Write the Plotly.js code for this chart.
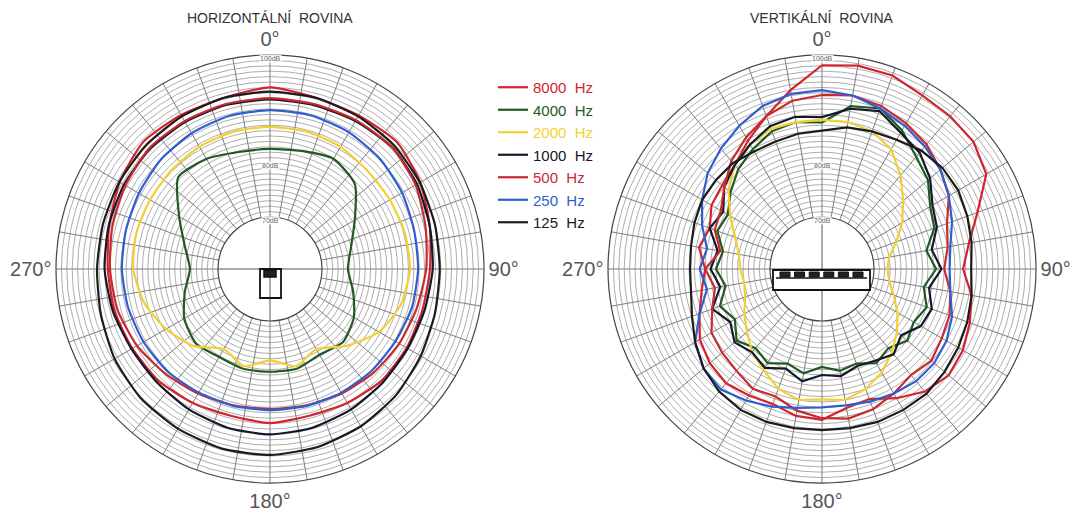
<!DOCTYPE html>
<html>
<head>
<meta charset="utf-8">
<script src="https://cdn.plot.ly/plotly-3.0.1.min.js"></script>
<style>
  html, body { margin: 0; padding: 0; background: #fff; }
  #chart { width: 1073px; height: 514px; }
</style>
</head>
<body>
<div id="chart"></div>
<script>
// Polar sound-level diagrams of a loudspeaker, horizontal and vertical planes (dB)
const anglesH = [0,15,30,45,60,75,90,105,120,135,150,165,180,195,210,225,240,255,270,285,300,315,330,345];
const anglesV = [0,10,20,30,40,50,60,70,80,90,100,110,120,130,140,150,160,170,180,190,200,210,220,230,240,250,260,270,280,290,300,310,320,330,340,350];

// Horizontal plane
const h8000 = [94.0,93.2,93.2,93.6,92.5,91.0,90.0,89.6,89.6,89.6,89.0,88.5,88.9,88.5,89.0,89.6,89.8,90.2,90.4,91.2,92.5,93.6,93.3,93.2];
const h4000 = [82.6,83.0,83.9,82.6,78.5,75.9,74.8,76.3,78.3,79.5,78.7,79.5,79.4,79.5,79.2,79.8,78.7,76.7,75.2,76.7,79.8,84.4,83.9,82.8];
const h2000 = [86.7,86.7,86.5,86.0,86.0,86.2,86.3,85.5,83.7,80.5,77.5,79.0,77.3,79.0,77.5,80.5,82.6,84.5,85.7,86.0,86.0,86.2,86.5,86.7];
const h1000 = [91.8,91.8,92.0,92.3,91.8,91.0,90.5,90.0,89.8,90.0,90.4,90.8,91.0,90.8,90.4,90.0,90.0,90.5,91.0,91.3,91.6,91.8,91.8,91.8];
const h500  = [92.0,92.0,92.2,92.3,91.5,90.2,89.3,88.5,88.0,87.5,87.0,86.5,86.3,86.5,87.0,87.8,88.8,89.6,90.0,90.6,91.3,92.0,92.0,92.0];
const h250  = [89.8,89.8,89.6,89.2,88.6,88.0,87.8,87.6,87.2,87.0,86.8,86.6,86.5,86.6,86.8,87.2,87.4,87.6,87.8,88.0,88.4,89.0,89.4,89.7];
const h125  = [93.2,93.2,93.0,92.8,92.4,92.0,91.8,92.0,92.6,93.4,94.0,94.5,94.8,94.8,94.5,94.2,93.6,92.8,92.4,92.4,92.6,92.8,93.0,93.2];

// Vertical plane
const v8000 = [98.1,98.6,98.5,97.5,97.3,97.0,95.5,91.0,88.0,86.5,88.5,89.5,90.5,91.0,90.0,88.0,86.0,86.5,88.3,88.0,87.0,87.4,88.0,87.5,86.5,84.5,83.0,82.0,83.5,82.5,84.0,84.5,85.5,87.8,90.5,94.0];
const v4000 = [87.5,91.0,92.0,90.0,87.5,86.0,83.5,82.5,80.0,81.5,79.5,81.0,80.0,81.0,79.5,80.5,79.0,79.5,78.5,80.0,79.0,80.5,79.5,81.0,79.0,80.5,78.5,80.0,79.0,81.0,80.5,82.5,84.5,86.0,87.5,88.0];
const v2000 = [88.0,88.0,87.5,86.0,83.0,80.0,77.5,75.0,73.0,72.5,73.0,74.5,76.5,78.5,80.5,82.5,84.0,85.0,84.5,85.0,84.0,82.0,80.5,78.5,77.0,75.5,75.0,75.5,76.0,77.5,80.0,83.0,85.5,87.0,88.0,88.0];
const v1000 = [88.5,90.5,91.5,89.5,88.5,86.5,84.0,83.0,81.0,82.5,80.5,82.0,81.5,79.5,81.0,80.0,79.5,80.5,80.0,81.5,80.0,81.5,80.5,81.5,80.0,82.0,79.5,81.0,80.0,82.5,81.5,84.0,85.5,87.0,88.5,89.0];
const v500  = [92.6,93.0,92.5,91.5,90.5,89.0,87.5,85.0,84.0,83.0,84.5,85.5,86.0,86.8,86.0,87.0,88.0,88.5,88.0,87.0,85.5,86.0,85.0,84.5,84.0,82.0,80.5,82.0,79.5,81.5,82.0,84.0,86.5,88.5,90.5,92.0];
const v250  = [93.5,93.0,92.0,91.0,90.0,89.0,87.5,86.0,84.5,84.0,84.5,86.0,87.0,87.5,87.5,87.0,86.5,86.0,86.0,86.5,87.5,88.5,89.5,89.0,87.5,84.5,82.0,83.0,82.0,84.0,86.0,88.0,89.5,91.0,92.5,93.3];
const v125  = [86.0,87.0,87.5,88.0,89.0,89.5,89.5,89.0,88.5,88.0,88.5,89.0,89.5,90.0,90.5,90.5,90.5,90.3,90.2,90.3,90.5,90.5,90.0,89.0,87.5,86.0,85.0,84.8,85.0,85.5,86.0,86.0,86.0,85.5,85.5,85.8];

const freqLabels = ['8000', '4000', '2000', '1000', '500', '250', '125'];
const freqColors = ['#d3242c', '#1f5a22', '#f1d034', '#15182a', '#c82a30', '#2f5ed0', '#1c1c1c'];
const horizSeries = [h8000, h4000, h2000, h1000, h500, h250, h125];
const vertSeries  = [v8000, v4000, v2000, v1000, v500, v250, v125];

const W = 1073, H = 514;
const RADIUS = 214, HOLE_PX = 52;
const centres = [{x: 270, y: 269}, {x: 822, y: 269}];

function closeLoop(arr) { return arr.concat([arr[0]]); }
function closeAngles(arr) { return arr.concat([360]); }
function px(x) { return x / W; }
function py(y) { return 1 - y / H; }

const traces = [];
freqLabels.forEach((f, i) => {
  const nameHtml = '<span style="color:' + freqColors[i] + '">' + f + '\u00a0\u00a0Hz</span>';
  traces.push({
    type: 'scatterpolar', subplot: 'polar',
    r: closeLoop(horizSeries[i]), theta: closeAngles(anglesH),
    mode: 'lines', line: {color: freqColors[i], width: 2.2, shape: 'spline', smoothing: 0.6},
    name: nameHtml, legendgroup: f, showlegend: true, hoverinfo: 'skip'
  });
  traces.push({
    type: 'scatterpolar', subplot: 'polar2',
    r: closeLoop(vertSeries[i]), theta: closeAngles(anglesV),
    mode: 'lines', line: {color: freqColors[i], width: 2.2},
    name: nameHtml, legendgroup: f, showlegend: false, hoverinfo: 'skip'
  });
});

const angTickVals = [];
const angTickText = [];
for (let a = 0; a < 360; a += 10) {
  angTickVals.push(a);
  angTickText.push(a % 90 === 0 ? a + '°' : '');
}

function polarLayout(c) {
  return {
    domain: {x: [px(c.x - RADIUS), px(c.x + RADIUS)], y: [py(c.y + RADIUS), py(c.y - RADIUS)]},
    hole: HOLE_PX / RADIUS,
    bgcolor: '#ffffff',
    radialaxis: {
      range: [70, 100], tick0: 70, dtick: 1, showticklabels: false, ticks: '',
      showline: false, gridcolor: '#8a8a8a', gridwidth: 0.7
    },
    angularaxis: {
      direction: 'clockwise', rotation: 90, tickmode: 'array',
      tickvals: angTickVals, ticktext: angTickText, ticks: '',
      tickfont: {family: 'Liberation Sans, Arial, sans-serif', size: 20, color: '#555'},
      gridcolor: '#5a5a5a', gridwidth: 0.8,
      showline: true, linecolor: '#444', linewidth: 1.2
    }
  };
}

// dB scale labels along the 0° spoke
const dbMarks = [100, 80, 70];
const annotations = [];
centres.forEach(c => {
  dbMarks.forEach(db => {
    const rpx = HOLE_PX + (db - 70) * (RADIUS - HOLE_PX) / 30;
    annotations.push({
      xref: 'paper', yref: 'paper', x: px(c.x), y: py(c.y - rpx + 3),
      text: db + 'dB', showarrow: false, xanchor: 'center', yanchor: 'middle',
      font: {family: 'Liberation Sans, Arial, sans-serif', size: 7, color: '#666'},
      bgcolor: 'rgba(255,255,255,0.85)', borderpad: 0
    });
  });
});
annotations.push({
  xref: 'paper', yref: 'paper', x: px(centres[0].x), y: py(18),
  text: 'HORIZONTÁLNÍ\u00a0\u00a0ROVINA', showarrow: false, xanchor: 'center', yanchor: 'middle',
  font: {family: 'Liberation Sans, Arial, sans-serif', size: 14, color: '#333'}
});
annotations.push({
  xref: 'paper', yref: 'paper', x: px(centres[1].x), y: py(18),
  text: 'VERTIKÁLNÍ\u00a0\u00a0ROVINA', showarrow: false, xanchor: 'center', yanchor: 'middle',
  font: {family: 'Liberation Sans, Arial, sans-serif', size: 14, color: '#333'}
});

// Cross hairs through the hole and the loudspeaker outlines
const shapes = [];
centres.forEach(c => {
  shapes.push({type: 'line', xref: 'paper', yref: 'paper', x0: px(c.x), x1: px(c.x),
    y0: py(c.y - HOLE_PX), y1: py(c.y + HOLE_PX), line: {color: '#555', width: 1}});
  shapes.push({type: 'line', xref: 'paper', yref: 'paper', x0: px(c.x - HOLE_PX), x1: px(c.x + HOLE_PX),
    y0: py(c.y), y1: py(c.y), line: {color: '#555', width: 1}});
});
// single-driver cabinet (horizontal view)
const cl = centres[0];
shapes.push({type: 'rect', xref: 'paper', yref: 'paper',
  x0: px(cl.x - 10), x1: px(cl.x + 11), y0: py(cl.y), y1: py(cl.y + 29),
  line: {color: '#111', width: 1.8}, fillcolor: 'rgba(255,255,255,0)'});
shapes.push({type: 'rect', xref: 'paper', yref: 'paper',
  x0: px(cl.x - 6), x1: px(cl.x + 6), y0: py(cl.y + 1), y1: py(cl.y + 8),
  line: {color: '#111', width: 1.5}, fillcolor: '#222'});
// line-array cabinet (vertical view)
const cr = centres[1];
shapes.push({type: 'rect', xref: 'paper', yref: 'paper',
  x0: px(cr.x - 49), x1: px(cr.x + 48), y0: py(cr.y + 1), y1: py(cr.y + 21),
  line: {color: '#111', width: 1.8}, fillcolor: '#ffffff'});
shapes.push({type: 'line', xref: 'paper', yref: 'paper',
  x0: px(cr.x - 46), x1: px(cr.x + 45), y0: py(cr.y + 9), y1: py(cr.y + 9),
  line: {color: '#111', width: 1.4}});
for (let k = 0; k < 6; k++) {
  const xc = cr.x - 37 + k * 14.6;
  shapes.push({type: 'rect', xref: 'paper', yref: 'paper',
    x0: px(xc - 5), x1: px(xc + 5), y0: py(cr.y + 3), y1: py(cr.y + 8),
    line: {color: '#111', width: 1}, fillcolor: '#222'});
}

const layout = {
  width: W, height: H,
  margin: {l: 0, r: 0, t: 0, b: 0},
  paper_bgcolor: '#ffffff',
  font: {family: 'Liberation Sans, Arial, sans-serif'},
  polar: polarLayout(centres[0]),
  polar2: polarLayout(centres[1]),
  showlegend: true,
  legend: {
    x: px(493), y: py(71), xanchor: 'left', yanchor: 'top',
    bgcolor: 'rgba(255,255,255,0)', tracegroupgap: 0,
    font: {family: 'Liberation Sans, Arial, sans-serif', size: 15, color: '#222'},
    itemwidth: 30
  },
  annotations: annotations,
  shapes: shapes
};

Plotly.newPlot('chart', traces, layout, {displayModeBar: false, staticPlot: true});
</script>
</body>
</html>
